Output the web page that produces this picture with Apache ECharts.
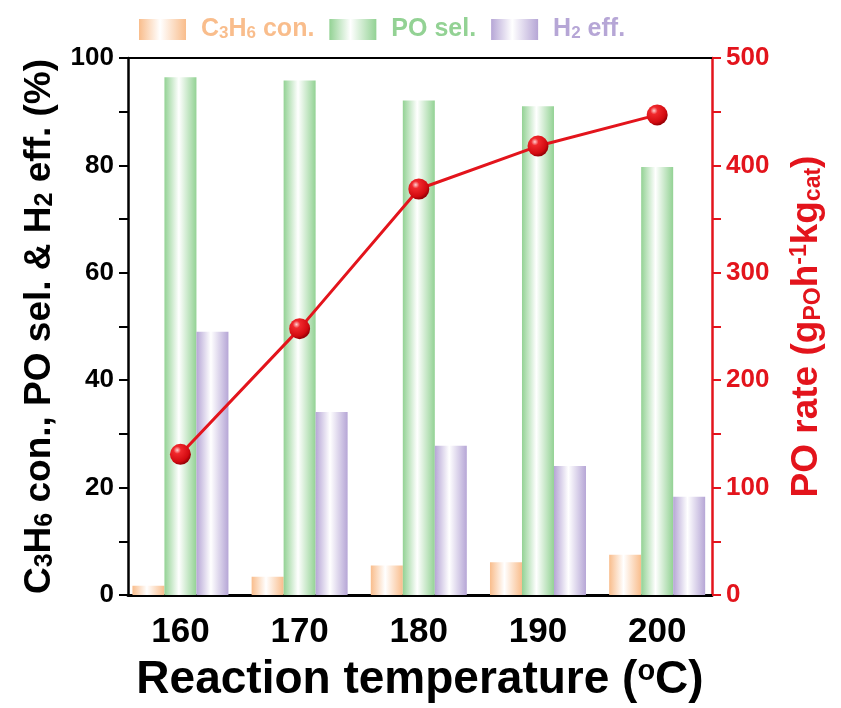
<!DOCTYPE html>
<html>
<head>
<meta charset="utf-8">
<script src="https://cdn.jsdelivr.net/npm/echarts@6/dist/echarts.min.js"></script>
<style>
  html, body { margin: 0; padding: 0; background: #fff; }
  #chart { width: 841px; height: 708px; }
</style>
</head>
<body>
<div id="chart"></div>
<script>
// data
var temps = [160, 170, 180, 190, 200];
var c3h6Conv = [1.7, 3.4, 5.5, 6.1, 7.5];
var poSel = [96.4, 95.8, 92.1, 91.0, 79.7];
var h2Eff = [49.0, 34.1, 27.8, 24.0, 18.3];
var poRate = [131, 248, 378, 418, 447];
var leftTicks = [0, 20, 40, 60, 80, 100];
var rightTicks = [0, 100, 200, 300, 400, 500];

var FONT = "'Liberation Sans', Arial, sans-serif";
var RED = '#e3141c';
var ORANGE = '#f9bd8c';
var GREEN = '#93d294';
var PURPLE = '#b6a6d6';

function pairs(ys) {
    return temps.map(function (t, i) { return [t, ys[i]]; });
}

// white-in-the-middle horizontal gradient, like the cylinder bars
function tube(c) {
    return new echarts.graphic.LinearGradient(0, 0, 1, 0, [
        { offset: 0, color: c },
        { offset: 0.45, color: '#ffffff' },
        { offset: 1, color: c }
    ]);
}

var myChart = echarts.init(document.getElementById('chart'));

var legendRich = {
    sp: { width: 10 },
    o: { color: ORANGE, fontSize: 25, fontWeight: 'bold', fontFamily: FONT },
    os: { color: ORANGE, fontSize: 17, fontWeight: 'bold', fontFamily: FONT, verticalAlign: 'bottom' },
    g: { color: GREEN, fontSize: 25, fontWeight: 'bold', fontFamily: FONT },
    p: { color: PURPLE, fontSize: 25, fontWeight: 'bold', fontFamily: FONT },
    ps: { color: PURPLE, fontSize: 17, fontWeight: 'bold', fontFamily: FONT, verticalAlign: 'bottom' }
};

myChart.setOption({
    animation: false,
    backgroundColor: '#fff',
    legend: {
        left: 134,
        top: 12,
        itemWidth: 47,
        itemHeight: 21,
        itemGap: 15,
        icon: 'rect',
        data: ['C3H6 con.', 'PO sel.', 'H2 eff.'],
        formatter: function (name) {
            if (name === 'C3H6 con.') return '{sp|}{o|C}{os|3}{o|H}{os|6}{o| con.}';
            if (name === 'PO sel.') return '{sp|}{g|PO sel.}';
            return '{sp|}{p|H}{ps|2}{p| eff.}';
        },
        textStyle: { fontFamily: FONT, fontWeight: 'bold', fontSize: 25, rich: legendRich }
    },
    grid: { left: 128, right: 129, top: 58, bottom: 113 },
    xAxis: [
        {
            type: 'value',
            min: 155.6,
            max: 204.6,
            position: 'bottom',
            name: '{t|Reaction temperature (}{sup|o}{t|C)}',
            nameLocation: 'middle',
            nameGap: 62,
            nameTextStyle: {
                rich: {
                    t: { fontSize: 46, fontWeight: 'bold', fontFamily: FONT, color: '#000' },
                    sup: { fontSize: 29, fontWeight: 'bold', fontFamily: FONT, color: '#000', verticalAlign: 'top' }
                }
            },
            axisLine: { show: true, lineStyle: { color: '#000', width: 3 } },
            axisTick: { show: false },
            splitLine: { show: false },
            axisLabel: {
                customValues: temps,
                color: '#000',
                fontSize: 35,
                fontWeight: 'bold',
                fontFamily: FONT,
                margin: 20
            }
        },
        {
            type: 'value',
            min: 155.6,
            max: 204.6,
            position: 'top',
            axisLine: { show: true, onZero: false, lineStyle: { color: '#000', width: 2 } },
            axisTick: { show: false },
            axisLabel: { show: false },
            splitLine: { show: false }
        }
    ],
    yAxis: [
        {
            type: 'value',
            min: 0,
            max: 100,
            interval: 20,
            position: 'left',
            name: '{t|C}{s|3}{t|H}{s|6}{t| con., PO sel. & H}{s|2}{t| eff. (%)}',
            nameLocation: 'middle',
            nameRotate: 90,
            nameGap: 70,
            nameTextStyle: {
                rich: {
                    t: { fontSize: 37, fontWeight: 'bold', fontFamily: FONT, color: '#000' },
                    s: { fontSize: 25, fontWeight: 'bold', fontFamily: FONT, color: '#000', verticalAlign: 'bottom' }
                }
            },
            axisLine: { show: true, lineStyle: { color: '#000', width: 2.5 } },
            axisTick: { show: true, inside: false, length: 9, lineStyle: { color: '#000', width: 2 } },
            minorTick: { show: true, splitNumber: 2, length: 9, lineStyle: { color: '#000', width: 2 } },
            splitLine: { show: false },
            axisLabel: {
                customValues: leftTicks,
                color: '#000',
                fontSize: 26,
                fontWeight: 'bold',
                fontFamily: FONT,
                margin: 14
            }
        },
        {
            type: 'value',
            min: 0,
            max: 500,
            interval: 100,
            position: 'right',
            name: '{t|PO rate (g}{s|PO}{t|h}{u|-1}{t|kg}{s|cat}{t|)}',
            nameLocation: 'middle',
            nameRotate: 90,
            nameGap: 76,
            nameTextStyle: {
                rich: {
                    t: { fontSize: 37, fontWeight: 'bold', fontFamily: FONT, color: RED },
                    s: { fontSize: 23, fontWeight: 'bold', fontFamily: FONT, color: RED, verticalAlign: 'bottom' },
                    u: { fontSize: 23, fontWeight: 'bold', fontFamily: FONT, color: RED, verticalAlign: 'top' }
                }
            },
            axisLine: { show: true, lineStyle: { color: RED, width: 2.5 } },
            axisTick: { show: true, inside: false, length: 9, lineStyle: { color: RED, width: 2 } },
            minorTick: { show: true, splitNumber: 2, length: 9, lineStyle: { color: RED, width: 2 } },
            splitLine: { show: false },
            axisLabel: {
                customValues: rightTicks,
                color: RED,
                fontSize: 26,
                fontWeight: 'bold',
                fontFamily: FONT,
                margin: 14
            }
        }
    ],
    series: [
        {
            name: 'C3H6 con.',
            type: 'bar',
            xAxisIndex: 0,
            yAxisIndex: 0,
            barWidth: 32,
            barGap: '0%',
            data: pairs(c3h6Conv),
            itemStyle: { color: tube(ORANGE) }
        },
        {
            name: 'PO sel.',
            type: 'bar',
            xAxisIndex: 0,
            yAxisIndex: 0,
            barWidth: 32,
            barGap: '0%',
            data: pairs(poSel),
            itemStyle: { color: tube(GREEN) }
        },
        {
            name: 'H2 eff.',
            type: 'bar',
            xAxisIndex: 0,
            yAxisIndex: 0,
            barWidth: 32,
            barGap: '0%',
            data: pairs(h2Eff),
            itemStyle: { color: tube(PURPLE) }
        },
        {
            name: 'PO rate',
            type: 'line',
            xAxisIndex: 0,
            yAxisIndex: 1,
            data: pairs(poRate),
            symbol: 'circle',
            symbolSize: 21,
            z: 5,
            lineStyle: { color: RED, width: 3 },
            itemStyle: {
                color: new echarts.graphic.RadialGradient(0.35, 0.3, 0.7, [
                    { offset: 0, color: '#ffd0d0' },
                    { offset: 0.25, color: '#f0282c' },
                    { offset: 0.8, color: '#d20a10' },
                    { offset: 1, color: '#9a0006' }
                ])
            }
        }
    ]
});
</script>
</body>
</html>
